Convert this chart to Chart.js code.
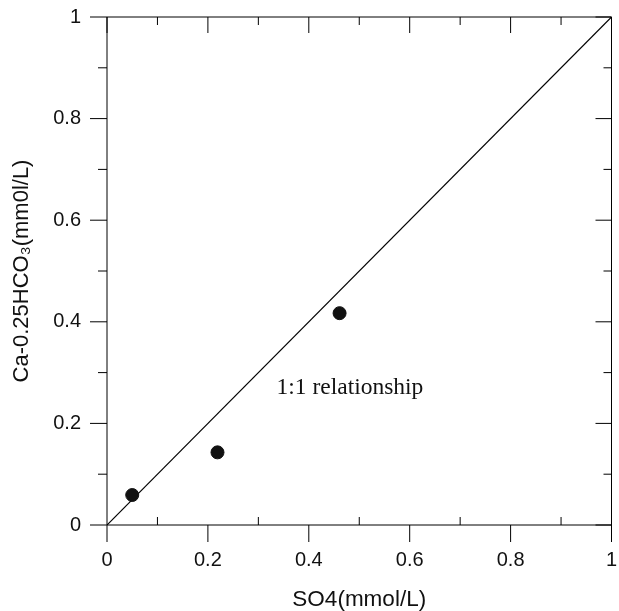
<!DOCTYPE html>
<html>
<head>
<meta charset="utf-8">
<script src="https://cdn.jsdelivr.net/npm/chart.js@4.4.0/dist/chart.umd.min.js"></script>
<style>
  body { margin: 0; background: #fff; }
  #wrap { width: 619px; height: 611px; }
</style>
</head>
<body>
<div id="wrap"><canvas id="plot" width="619" height="611"></canvas></div>
<script>
  // measured samples
  var so4 = [0.05, 0.219, 0.461];
  var caHco3 = [0.059, 0.143, 0.417];
  // 1:1 reference line
  var lineX = [0, 1];
  var lineY = [0, 1];
  var majorTicks = [0, 0.2, 0.4, 0.6, 0.8, 1];
  var minorTicks = [0.1, 0.3, 0.5, 0.7, 0.9];

  var points = so4.map(function(v, i){ return { x: v, y: caHco3[i] }; });
  var oneToOne = lineX.map(function(v, i){ return { x: v, y: lineY[i] }; });

  function fmt(v) { return String(Math.round(v * 10) / 10); }

  // frame with ticks pointing in/out like the original figure
  var framePlugin = {
    id: 'frame',
    afterDraw: function(chart) {
      var c = chart.ctx, a = chart.chartArea;
      var xs = chart.scales.x, ys = chart.scales.y;
      c.save();
      c.strokeStyle = '#000';
      c.lineWidth = 1;
      c.beginPath();
      c.rect(a.left, a.top, a.right - a.left, a.bottom - a.top);
      majorTicks.forEach(function(v){
        var px = xs.getPixelForValue(v), py = ys.getPixelForValue(v);
        c.moveTo(px, a.bottom); c.lineTo(px, a.bottom + 17);
        c.moveTo(px, a.top); c.lineTo(px, a.top + 16);
        c.moveTo(a.left - 17, py); c.lineTo(a.left, py);
        c.moveTo(a.right - 16, py); c.lineTo(a.right, py);
      });
      minorTicks.forEach(function(v){
        var px = xs.getPixelForValue(v), py = ys.getPixelForValue(v);
        c.moveTo(px, a.bottom); c.lineTo(px, a.bottom - 8);
        c.moveTo(px, a.top); c.lineTo(px, a.top + 8);
        c.moveTo(a.left - 9, py); c.lineTo(a.left, py);
        c.moveTo(a.right - 8, py); c.lineTo(a.right, py);
      });
      c.stroke();

      // label for the reference line
      c.fillStyle = '#111';
      c.font = '23.5px "Liberation Serif", "Times New Roman", serif';
      c.textAlign = 'left';
      c.textBaseline = 'middle';
      c.fillText('1:1 relationship', xs.getPixelForValue(0.336), ys.getPixelForValue(0.27));
      c.restore();
    }
  };

  var ctx = document.getElementById('plot').getContext('2d');
  var myChart = new Chart(ctx, {
    type: 'scatter',
    data: {
      datasets: [{
        label: 'samples',
        data: points,
        backgroundColor: '#111',
        borderColor: '#111',
        pointRadius: 6.5,
        pointHoverRadius: 6.5
      }, {
        label: '1:1',
        data: oneToOne,
        showLine: true,
        borderColor: '#000',
        borderWidth: 1.2,
        pointRadius: 0,
        fill: false
      }]
    },
    options: {
      responsive: false,
      animation: false,
      layout: { padding: { top: 17, right: 0, left: 0, bottom: 0 } },
      plugins: {
        legend: { display: false },
        tooltip: { enabled: false }
      },
      scales: {
        x: {
          type: 'linear',
          min: 0,
          max: 1,
          afterFit: function(s){
            s.height = 86;
            s.paddingLeft = 0; s.paddingRight = 0;
          },
          grid: { display: false, drawTicks: false },
          border: { display: false },
          ticks: {
            stepSize: 0.2,
            padding: 23,
            color: '#111',
            callback: fmt,
            font: { family: '"Liberation Sans", Arial, sans-serif', size: 20 }
          },
          title: {
            display: true,
            text: 'SO4(mmol/L)',
            color: '#111',
            padding: { top: 0, bottom: 0 },
            font: { family: '"Liberation Sans", Arial, sans-serif', size: 22.5, lineHeight: 1 }
          }
        },
        y: {
          type: 'linear',
          min: 0,
          max: 1,
          afterFit: function(s){
            s.width = 107;
            s.paddingTop = 0; s.paddingBottom = 0;
          },
          grid: { display: false, drawTicks: false },
          border: { display: false },
          ticks: {
            stepSize: 0.2,
            padding: 26,
            color: '#111',
            callback: fmt,
            font: { family: '"Liberation Sans", Arial, sans-serif', size: 20 }
          },
          title: {
            display: true,
            text: 'Ca-0.25HCO\u2083(mm0l/L)',
            color: '#111',
            padding: { top: 11, bottom: 0 },
            font: { family: '"Liberation Sans", Arial, sans-serif', size: 22, lineHeight: 1 }
          }
        }
      }
    },
    plugins: [framePlugin]
  });
</script>
</body>
</html>
